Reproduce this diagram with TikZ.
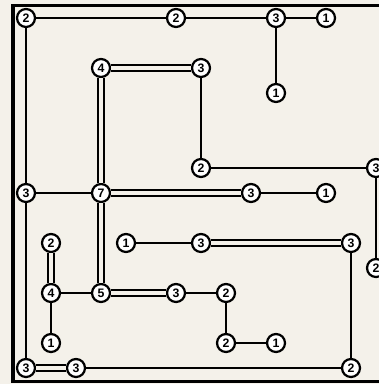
\documentclass[tikz,border=0pt]{standalone}
\usepackage{fontspec}
\setmainfont{Liberation Sans}
\definecolor{paper}{RGB}{244,241,234}
\tikzset{
  isle/.style={shape=circle,draw=black,fill=white,line width=0.09cm,minimum size=0.72cm,inner sep=0pt,font=\fontsize{14}{14}\selectfont\bfseries},
  one/.style={line width=0.06cm},
  two/.style={line width=0.06cm,double=paper,double distance=0.19cm},
}
\begin{document}
\begin{tikzpicture}[x=1cm,y=-1cm]
\useasboundingbox[fill=paper] (-1.04,-0.72) rectangle (14.12,14.64);
\clip (-1.04,-0.72) rectangle (14.12,14.64);
% frame
\draw[line width=0.14cm] (15,-0.5) -- (-0.52,-0.5) -- (-0.52,14.54) -- (15,14.54);
% islands
\node[isle] (1) at (0,0) {2};
\node[isle] (2) at (6,0) {2};
\node[isle] (3) at (10,0) {3};
\node[isle] (4) at (12,0) {1};
\node[isle] (5) at (3,2) {4};
\node[isle] (6) at (7,2) {3};
\node[isle] (7) at (10,3) {1};
\node[isle] (8) at (7,6) {2};
\node[isle] (9) at (14,6) {3};
\node[isle] (10) at (0,7) {3};
\node[isle] (11) at (3,7) {7};
\node[isle] (12) at (9,7) {3};
\node[isle] (13) at (12,7) {1};
\node[isle] (14) at (1,9) {2};
\node[isle] (15) at (4,9) {1};
\node[isle] (16) at (7,9) {3};
\node[isle] (17) at (13,9) {3};
\node[isle] (18) at (14,10) {2};
\node[isle] (19) at (1,11) {4};
\node[isle] (20) at (3,11) {5};
\node[isle] (21) at (6,11) {3};
\node[isle] (22) at (8,11) {2};
\node[isle] (23) at (1,13) {1};
\node[isle] (24) at (8,13) {2};
\node[isle] (25) at (10,13) {1};
\node[isle] (26) at (0,14) {3};
\node[isle] (27) at (2,14) {3};
\node[isle] (28) at (13,14) {2};
% bridges
\path (1) edge[one] (2);
\path (2) edge[one] (3);
\path (3) edge[one] (4);
\path (3) edge[one] (7);
\path (1) edge[one] (10);
\path (5) edge[two] (6);
\path (5) edge[two] (11);
\path (6) edge[one] (8);
\path (8) edge[one] (9);
\path (9) edge[one] (18);
\path (10) edge[one] (11);
\path (11) edge[two] (12);
\path (12) edge[one] (13);
\path (11) edge[two] (20);
\path (10) edge[one] (26);
\path (14) edge[two] (19);
\path (19) edge[one] (20);
\path (19) edge[one] (23);
\path (20) edge[two] (21);
\path (21) edge[one] (22);
\path (22) edge[one] (24);
\path (24) edge[one] (25);
\path (15) edge[one] (16);
\path (16) edge[two] (17);
\path (17) edge[one] (28);
\path (26) edge[two] (27);
\path (27) edge[one] (28);
\end{tikzpicture}
\end{document}
